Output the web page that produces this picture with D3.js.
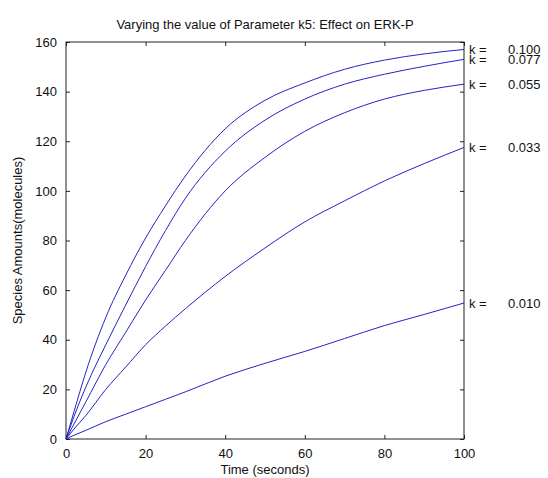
<!DOCTYPE html>
<html>
<head>
<meta charset="utf-8">
<script src="https://cdn.jsdelivr.net/npm/d3@7"></script>
<style>
  body { margin: 0; background: #fff; }
  text { font-family: "Liberation Sans", Arial, sans-serif; fill: #111; }
</style>
</head>
<body>
<svg id="chart" width="548" height="478"></svg>
<script>
// time points (seconds)
var times = [0, 2, 5, 10, 15, 20, 25, 30, 40, 50, 60, 70, 80, 90, 100];

// parameter k5 values, one per curve
var kValues = ["0.100", "0.077", "0.055", "0.033", "0.010"];

// ERK-P amount for each k
var erk_k100 = [0, 11, 27, 49, 66, 81, 94, 106, 125, 136.5, 143.5, 149, 152.7, 155.2, 157];
var erk_k077 = [0, 9, 21, 38, 54, 69.5, 84, 97, 116, 128.5, 137, 143, 147, 150.2, 153];
var erk_k055 = [0, 6, 15, 30, 43, 56, 68, 80, 100, 113.5, 124, 131.5, 137, 140.5, 143];
var erk_k033 = [0, 4, 9.5, 20, 29, 38, 45.5, 52.5, 65.5, 77, 87.5, 96, 104, 111, 117.5];
var erk_k010 = [0, 1.5, 3.5, 7, 10, 13, 16, 19, 25.3, 30.5, 35.3, 40.5, 45.7, 50.2, 54.8];

var xTicks = [0, 20, 40, 60, 80, 100];
var yTicks = [0, 20, 40, 60, 80, 100, 120, 140, 160];

var series = [erk_k100, erk_k077, erk_k055, erk_k033, erk_k010];

var svg = d3.select("#chart");
// plot box (note: "top" is taken by window.top, so use pLeft etc)
var pLeft = 66, pRight = 464, pTop = 42, pBottom = 439;

var x = d3.scaleLinear().domain([0, 100]).range([pLeft, pRight]);
var y = d3.scaleLinear().domain([0, 160]).range([pBottom, pTop]);

var tickLen = 4;

// axes: inward ticks on all four sides, like matlab box on
svg.append("g").attr("transform", "translate(0," + pBottom + ")")
  .call(d3.axisBottom(x).tickValues(xTicks).tickSizeInner(-tickLen).tickSizeOuter(0).tickPadding(10));
svg.append("g").attr("transform", "translate(0," + pTop + ")")
  .call(d3.axisTop(x).tickValues(xTicks).tickSizeInner(-tickLen).tickSizeOuter(0).tickFormat(""));
svg.append("g").attr("transform", "translate(" + pLeft + ",0)")
  .call(d3.axisLeft(y).tickValues(yTicks).tickSizeInner(-tickLen).tickSizeOuter(0).tickPadding(9));
svg.append("g").attr("transform", "translate(" + pRight + ",0)")
  .call(d3.axisRight(y).tickValues(yTicks).tickSizeInner(-tickLen).tickSizeOuter(0).tickFormat(""));

svg.selectAll(".domain").remove();
svg.selectAll(".tick line").attr("stroke", "#222");
svg.selectAll(".tick text").attr("font-size", 13).attr("fill", "#111")
  .attr("font-family", "Liberation Sans, Arial, sans-serif");

svg.append("rect")
  .attr("x", pLeft).attr("y", pTop)
  .attr("width", pRight - pLeft).attr("height", pBottom - pTop)
  .attr("fill", "none").attr("stroke", "#222").attr("stroke-width", 1);

var line = d3.line()
  .x(function(d, i) { return x(times[i]); })
  .y(function(d) { return y(d); })
  .curve(d3.curveMonotoneX);

svg.selectAll("path.curve")
  .data(series)
  .enter().append("path")
  .attr("class", "curve")
  .attr("d", line)
  .attr("fill", "none")
  .attr("stroke", "#2424c4")
  .attr("stroke-width", 1);

// k labels at the right end of each curve
series.forEach(function(s, i) {
  var yy = y(s[s.length - 1]);
  svg.append("text").attr("x", pRight + 5).attr("y", yy).attr("dy", "0.35em")
    .attr("font-size", 13).text("k =");
  svg.append("text").attr("x", pRight + 44).attr("y", yy).attr("dy", "0.35em")
    .attr("font-size", 13).text(kValues[i]);
});

svg.append("text")
  .attr("x", (pLeft + pRight) / 2).attr("y", 29)
  .attr("text-anchor", "middle").attr("font-size", 13)
  .text("Varying the value of Parameter k5: Effect on ERK-P");

svg.append("text")
  .attr("x", (pLeft + pRight) / 2).attr("y", 474)
  .attr("text-anchor", "middle").attr("font-size", 13)
  .text("Time (seconds)");

svg.append("text")
  .attr("transform", "translate(22," + ((pTop + pBottom) / 2) + ") rotate(-90)")
  .attr("text-anchor", "middle").attr("font-size", 13)
  .text("Species Amounts(molecules)");
</script>
</body>
</html>
